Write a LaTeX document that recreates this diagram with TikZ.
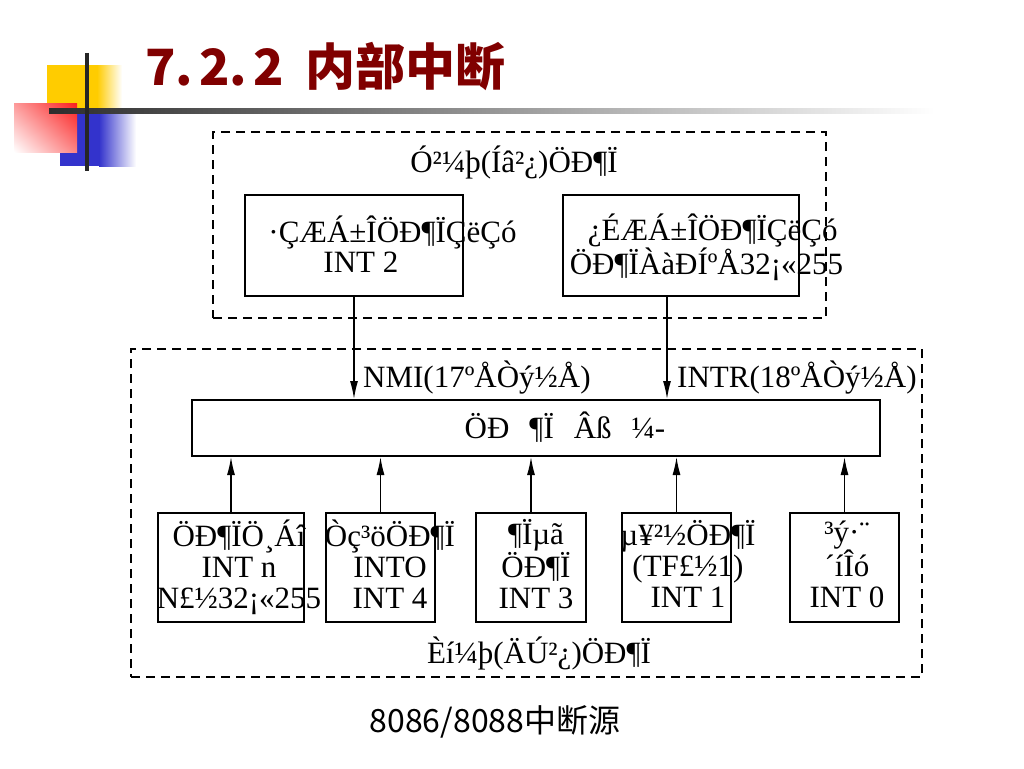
\documentclass[tikz,border=0pt]{standalone}
\usepackage{fontspec}
\setmainfont{Liberation Serif}
\newfontfamily\cjk{Noto Sans CJK SC}
\usetikzlibrary{arrows.meta,shadings}
\definecolor{titlered}{RGB}{128,0,0}
\definecolor{markyellow}{RGB}{255,204,0}
\definecolor{markred}{RGB}{250,30,30}
\definecolor{markblue}{RGB}{51,51,204}
\definecolor{rulegray}{RGB}{45,45,45}
\begin{document}
\begin{tikzpicture}[x=1pt,y=-1pt,>={Latex[length=18pt,width=8pt]}]
\tikzset{
  src/.style={draw,line width=2pt,inner sep=0pt},
  part/.style={draw,dash pattern=on 9pt off 6pt,line width=1.4pt,inner sep=0pt},
  txt/.style={inner sep=0pt,font=\fontsize{31}{30}\selectfont},
  srctxt/.style={txt,align=center,font=\fontsize{31}{31}\selectfont,
    execute at begin node=\rule{0pt}{30pt},execute at end node=\rule[-10pt]{0pt}{10pt}},
  feed/.style={->,line width=1.3pt}
}
\useasboundingbox (0,0) rectangle (1024,768);
% corner mark of the slide
\fill[markyellow] (47,65) rectangle (98,108);
\shade[left color=markyellow,right color=white] (97,65) rectangle (122,108);
\fill[markblue] (60,113) rectangle (100,166);
\shade[left color=markblue,right color=white] (99,113) rectangle (136,166);
\shade[upper left=markred!45,upper right=markred,lower left=white,lower right=markred!55] (14,103) rectangle (77,152);
\shade[left color=rulegray,right color=white] (49,108.5) rectangle (935,113.5);
\draw[line width=4pt,black!85] (87,53) -- (87,171);
\node[anchor=west,inner sep=0pt,text=titlered,font=\cjk\bfseries\fontsize{50}{50}\selectfont] (title) at (145,67) {7.\hspace{6pt}2.\hspace{6pt}2\hspace{22pt}内部中断};

% hardware and software parts
\node[part,minimum width=613,minimum height=186] (hwpart) at (519.5,225) {};
\node[part,minimum width=791,minimum height=328] (swpart) at (526.5,513) {};
\node[txt,anchor=base] (hwlabel) at (514,172) {Ó²¼þ(Íâ²¿)ÖÐ¶Ï};
\node[txt,anchor=base] (swlabel) at (539,663) {Èí¼þ(ÄÚ²¿)ÖÐ¶Ï};

% request boxes
\node[src,minimum width=218,minimum height=101] (nmireq) at (354,245.5) {};
\node[src,minimum width=236,minimum height=101] (intrreq) at (681,245.5) {};
\node[txt,align=left] (nmitext) at (392.5,244) {·ÇÆÁ±ÎÖÐ¶ÏÇëÇó\\\hspace*{55pt}INT 2};
\node[txt,align=left] (intrtext) at (706.5,247) {\hspace*{18pt}¿ÉÆÁ±ÎÖÐ¶ÏÇëÇó\\ÖÐ¶ÏÀàÐÍºÅ32¡«255};

% interrupt logic
\node[src,minimum width=688,minimum height=56] (logic) at (536,428) {};
\node[txt,anchor=base] (logictext) at (565,438) {ÖÐ\hspace{20pt}¶Ï\hspace{20pt}Âß\hspace{20pt}¼-};
\draw[feed] (nmireq.south) -- (nmireq.south |- logic.north);
\draw[feed] ([xshift=-14pt]intrreq.south) -- ([xshift=-14pt]intrreq.south |- logic.north);
\node[txt,anchor=base west] (nmilabel) at (363,387) {NMI(17ºÅÒý½Å)};
\node[txt,anchor=base west] (intrlabel) at (677,387) {INTR(18ºÅÒý½Å)};

% internal sources
\node[src,minimum width=146,minimum height=109] (intn) at (231,567.5) {};
\node[src,minimum width=109,minimum height=109] (into) at (380.5,567.5) {};
\node[src,minimum width=110,minimum height=109] (intthree) at (531,567.5) {};
\node[src,minimum width=109,minimum height=109] (intone) at (676.5,567.5) {};
\node[src,minimum width=109,minimum height=109] (intzero) at (844.5,567.5) {};
\node[srctxt] (intntext) at (239,569) {ÖÐ¶ÏÖ¸Áî\\INT n\\N£½32¡«255};
\node[srctxt] (intotext) at (390,569) {Òç³öÖÐ¶Ï\\INTO\\INT 4};
\node[srctxt] (intthreetext) at (536,569) {¶Ïµã\\ÖÐ¶Ï\\INT 3};
\node[srctxt] (intonetext) at (688,569) {µ¥²½ÖÐ¶Ï\\(TF£½1)\\INT 1};
\node[srctxt] (intzerotext) at (847,569) {³ý·¨\\´íÎó\\INT 0};
\draw[feed] (intn.north) -- (intn.north |- logic.south);
\draw[feed] (into.north) -- (into.north |- logic.south);
\draw[feed] (intthree.north) -- (intthree.north |- logic.south);
\draw[feed] (intone.north) -- (intone.north |- logic.south);
\draw[feed] (intzero.north) -- (intzero.north |- logic.south);

\node[inner sep=0pt,font=\cjk\fontsize{32}{32}\selectfont] (caption) at (495,722) {8086/8088中断源};
\end{tikzpicture}
\end{document}
